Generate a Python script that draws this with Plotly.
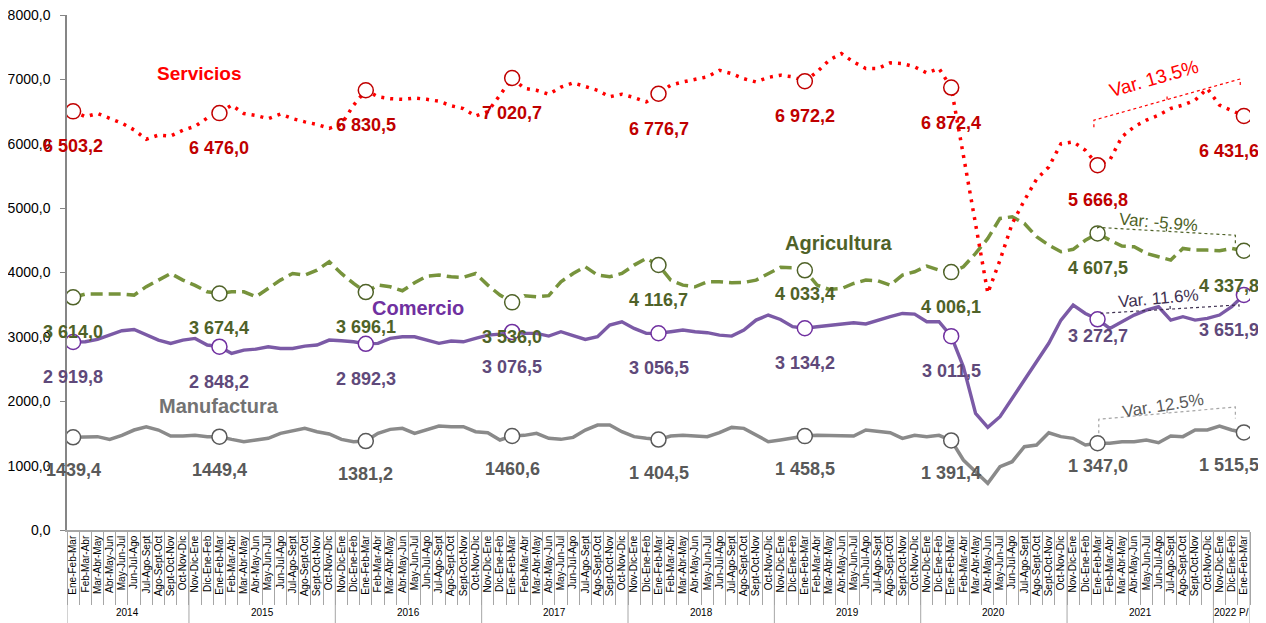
import plotly.graph_objects as go

# ---------------- data ----------------
periodos = ["Nov-Dic-Ene", "Dic-Ene-Feb", "Ene-Feb-Mar", "Feb-Mar-Abr", "Mar-Abr-May",
            "Abr-May-Jun", "May-Jun-Jul", "Jun-Jul-Ago", "Jul-Ago-Sept", "Ago-Sept-Oct",
            "Sept-Oct-Nov", "Oct-Nov-Dic"]
anios = ["2014", "2015", "2016", "2017", "2018", "2019", "2020", "2021", "2022 P/"]
# slice of periodos shown for each year
anio_inicio = [2, 0, 0, 0, 0, 0, 0, 0, 0]
anio_fin = [12, 12, 12, 12, 12, 12, 12, 12, 3]

servicios = [
    6503.2, 6420, 6470, 6400, 6320, 6215, 6070, 6135, 6120, 6210, 6270, 6400,
    6476.0, 6600, 6470, 6440, 6390, 6460, 6390, 6340, 6300, 6240, 6300, 6600,
    6830.5, 6730, 6700, 6690, 6710, 6690, 6660, 6590, 6547, 6430, 6500, 6755,
    7020.7, 6860, 6830, 6770, 6880, 6946, 6884, 6830, 6730, 6770, 6718, 6650,
    6776.7, 6910, 6960, 7000, 7040, 7140, 7090, 7010, 6960, 7030, 7065, 7040,
    6972.2, 7117, 7300, 7400, 7270, 7170, 7170, 7257, 7246, 7195, 7100, 7170,
    6872.4, 5820, 4710, 3680, 4190, 4760, 5120, 5450, 5640, 6000, 6030, 5900,
    5666.8, 5745, 6108, 6263, 6366, 6444, 6548, 6600, 6677, 6858, 6600, 6520,
    6431.6]
agricultura = [
    3614.0, 3665, 3665, 3665, 3665, 3649, 3780, 3882, 3985, 3882, 3800, 3700,
    3674.4, 3700, 3700, 3623, 3753, 3882, 3985, 3960, 4037, 4167, 3985, 3830,
    3696.1, 3804, 3778, 3716, 3840, 3944, 3960, 3933, 3925, 3985, 3804, 3649,
    3536.0, 3640, 3623, 3640, 3856, 3985, 4089, 3960, 3933, 3985, 4115, 4219,
    4116.7, 3882, 3804, 3778, 3856, 3856, 3840, 3845, 3882, 3985, 4080, 4075,
    4033.4, 3804, 3737, 3750, 3830, 3882, 3870, 3804, 3960, 4011, 4099, 4037,
    4006.1, 4089, 4296, 4529, 4840, 4865, 4762, 4555, 4425, 4322, 4360, 4500,
    4607.5, 4503, 4410, 4400, 4296, 4244, 4193, 4374, 4348, 4348, 4338, 4374,
    4337.8]
comercio = [
    2919.8, 2924, 2960, 3028, 3095, 3115, 3028, 2950, 2899, 2950, 2976, 2873,
    2848.2, 2743, 2795, 2810, 2847, 2820, 2820, 2857, 2873, 2950, 2940, 2924,
    2892.3, 2899, 2976, 3002, 3002, 2950, 2899, 2935, 2924, 2976, 3028, 3043,
    3076.5, 3054, 3054, 3012, 3080, 3018, 2960, 3002, 3183, 3235, 3132, 3054,
    3056.5, 3080, 3106, 3080, 3065, 3028, 3012, 3106, 3261, 3339, 3271, 3158,
    3134.2, 3158, 3183, 3200, 3220, 3200, 3261, 3313, 3364, 3354, 3235, 3235,
    3011.5, 2536, 1812, 1594, 1760, 2045, 2329, 2600, 2900, 3261, 3494, 3364,
    3272.7, 3132, 3235, 3339, 3416, 3468, 3261, 3313, 3261, 3287, 3339, 3468,
    3651.9]
manufactura = [
    1439.4, 1439, 1450, 1408, 1470, 1553, 1604, 1553, 1460, 1460, 1470, 1450,
    1449.4, 1408, 1372, 1398, 1424, 1501, 1543, 1579, 1527, 1491, 1408, 1372,
    1381.2, 1501, 1563, 1579, 1501, 1563, 1615, 1604, 1604, 1527, 1512, 1398,
    1460.6, 1470, 1501, 1424, 1408, 1439, 1553, 1630, 1630, 1527, 1450, 1424,
    1404.5, 1460, 1470, 1460, 1450, 1512, 1594, 1579, 1470, 1372, 1398, 1424,
    1458.5, 1470, 1465, 1460, 1460, 1553, 1527, 1512, 1424, 1470, 1450, 1470,
    1391.4, 1087, 905, 725, 983, 1061, 1294, 1320, 1510, 1450, 1424, 1320,
    1347.0, 1346, 1372, 1372, 1398, 1356, 1460, 1450, 1553, 1553, 1615, 1553,
    1515.5]

variaciones = {"Servicios": "Var. 13.5%", "Agricultura": "Var: -5.9%",
               "Comercio": "Var. 11.6%", "Manufactura": "Var. 12.5%"}

# ---------------- derived ----------------
tick_labels = []
grupos = []  # (first index, last index) per year
for a, s, e in zip(anios, anio_inicio, anio_fin):
    start = len(tick_labels)
    tick_labels += periodos[s:e]
    grupos.append((start, len(tick_labels) - 1))
N = len(tick_labels)
x = list(range(N))
marcas = [i for i in x if tick_labels[i] == "Ene-Feb-Mar"]

PX = 8000 / 515.0  # data units per pixel (y)
SANS = "Liberation Sans, Arial, sans-serif"


def fmt(v, sep=True):
    s = f"{v:,.1f}"
    s = s.replace(",", " " if sep else "").replace(".", ",")
    return s


series = [
    ("Manufactura", manufactura, dict(color="#8A8A8A", width=3.5), "#595959", "#595959"),
    ("Comercio", comercio, dict(color="#7B5AA6", width=3.4), "#7030A0", "#5F497A"),
    ("Agricultura", agricultura, dict(color="#77933C", width=3.5, dash="12px,6px"), "#4F6228", "#4F6228"),
    ("Servicios", servicios, dict(color="#FF0000", width=3.5, dash="3px,6px"), "#C00000", "#C00000"),
]

fig = go.Figure()
for name, ys, line, mcol, lcol in series:
    fig.add_trace(go.Scatter(x=x, y=ys, mode="lines", line=line, name=name,
                             hoverinfo="skip", showlegend=False))
for name, ys, line, mcol, lcol in series:
    fig.add_trace(go.Scatter(x=marcas, y=[ys[i] for i in marcas], mode="markers",
                             marker=dict(symbol="circle", size=15, color="white",
                                         line=dict(color=mcol, width=1.5)),
                             showlegend=False, hoverinfo="skip"))

annotations = []
# data labels
special_shift = {("Agricultura", 60): -24, ("Comercio", 84): -17, ("Manufactura", 84): -23}
for name, ys, line, mcol, lcol in series:
    for k, i in enumerate(marcas):
        sep = not (name == "Manufactura" and k < 4)
        ysh = special_shift.get((name, i), -33 if name == "Manufactura" else -35)
        xsh = -15 if i == N - 1 else 0
        annotations.append(dict(x=i, y=ys[i], xref="x", yref="y",
                                text=f"<b>{fmt(ys[i], sep)}</b>",
                                showarrow=False, yshift=ysh, xshift=xsh,
                                font=dict(family=SANS, size=18, color=lcol)))

# series names
nombres = [("Servicios", 10.4, 7096, "#FF0000", 19),
           ("Manufactura", 12.0, 1925, "#737373", 20),
           ("Comercio", 28.3, 3447, "#7030A0", 20),
           ("Agricultura", 62.8, 4457, "#4F6228", 20)]
for t, xx, yy, c, sz in nombres:
    annotations.append(dict(x=xx, y=yy, text=f"<b>{t}</b>", showarrow=False,
                            font=dict(family=SANS, size=sz, color=c)))

# variation labels
i0, i1 = marcas[-2], marcas[-1]
var_pos = [("Servicios", 88.6, 7019, "#FF0000", 19, -16),
           ("Agricultura", 89.0, 4783, "#4F6228", 17, 5),
           ("Comercio", 89.0, 3602, "#3F3151", 17, -5),
           ("Manufactura", 89.4, 1941, "#595959", 17, -9)]
for name, xx, yy, c, sz, ang in var_pos:
    annotations.append(dict(x=xx, y=yy, text=variaciones[name], showarrow=False,
                            textangle=ang, font=dict(family=SANS, size=sz, color=c)))

# year labels
for (a, b), yr in zip(grupos, anios):
    annotations.append(dict(x=(a + b) / 2, y=-0.161, xref="x", yref="paper", text=yr,
                            showarrow=False, yanchor="middle",
                            font=dict(family=SANS, size=10, color="#000000")))

shapes = []
# year separators
bounds = [grupos[0][0] - 0.5] + [b + 0.5 for a, b in grupos]
for bx in bounds:
    shapes.append(dict(type="line", xref="x", yref="paper", x0=bx, x1=bx, y0=0, y1=-0.181,
                       line=dict(color="#A6A6A6", width=1)))


def bracket(v0, v1, l_lo, l_hi, r_hi, r_lo, color, xl=0.0, xr=-0.7):
    xa, xb = i0 + xl, i1 + xr
    ya0, ya1 = v0 + l_lo * PX, v0 + l_hi * PX
    yb1, yb0 = v1 + r_hi * PX, v1 + r_lo * PX
    xm = (xa + xb) / 2
    ym = (ya1 + yb1) / 2
    path = (f"M {xa},{ya0} L {xa},{ya1} L {xb},{yb1} L {xb},{yb0} "
            f"M {xm},{ym} L {xm},{ym + 5 * PX}")
    return dict(type="path", xref="x", yref="y", path=path,
                line=dict(color=color, width=1.2, dash="dot"))


shapes.append(bracket(servicios[i0], servicios[i1], 38, 45, 37, 31, "#FF0000", -0.3, -0.3))
shapes.append(bracket(agricultura[i0], agricultura[i1], 5, 6, 15.5, 7.5, "#4F6228", 0.0, -0.7))
shapes.append(bracket(comercio[i0], comercio[i1], 5, 6, -10, -15, "#3F3151", 0.3, -0.4))
shapes.append(bracket(manufactura[i0], manufactura[i1], 10, 24, 25.5, 14, "#A6A6A6", 0.1, -0.7))

# the page body has an 8px margin: size the figure so the plot sits where the reference has it
fig.update_layout(
    width=1258, height=615,
    margin=dict(l=59, r=16, t=7, b=93, autoexpand=False),
    paper_bgcolor="white", plot_bgcolor="white",
    separators=", ",
    showlegend=False,
    annotations=annotations,
    shapes=shapes,
    xaxis=dict(range=[-0.5, N - 0.5], tickmode="array", tickvals=x, ticktext=tick_labels,
               tickangle=-90, ticks="", showgrid=False, zeroline=False, automargin=False,
               showline=True, linecolor="#A6A6A6", linewidth=1.5,
               tickfont=dict(family=SANS, size=10, color="#000000"),
               minor=dict(tickmode="array", tickvals=[i - 0.5 for i in range(N + 1)],
                          ticks="outside", ticklen=73, tickcolor="#A6A6A6", tickwidth=1,
                          showgrid=False)),
    yaxis=dict(range=[0, 8000], tickmode="linear", tick0=0, dtick=1000, tickformat=".1f",
               ticks="outside", ticklen=5, tickcolor="#868686", showline=True,
               linecolor="#868686", linewidth=1.5, showgrid=False, zeroline=False,
               automargin=False, ticklabeloverflow="allow", ticklabelstandoff=7,
               tickfont=dict(family=SANS, size=14, color="#000000")),
)

fig.write_html("out.html")
